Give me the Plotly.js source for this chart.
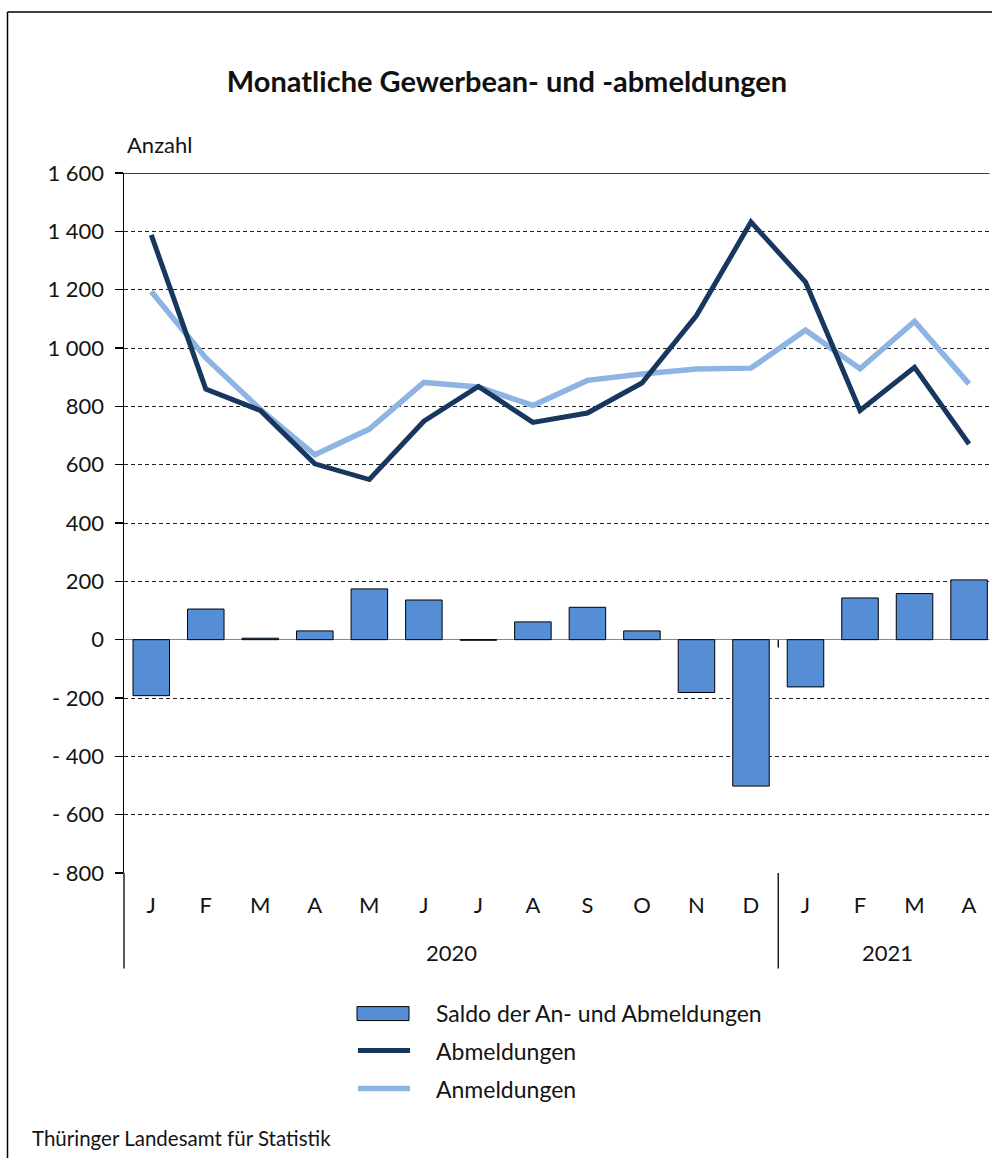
<!DOCTYPE html>
<html>
<head>
<meta charset="utf-8">
<script src="https://cdn.plot.ly/plotly-3.0.1.min.js"></script>
<style>
  html, body { margin: 0; padding: 0; overflow: hidden; background: #fff; width: 992px; height: 1158px; }
  #wrap { position: relative; width: 992px; height: 1158px; overflow: hidden; }
  #chart { position: absolute; left: 0; top: 0; width: 992px; height: 1158px; }
</style>
</head>
<body>
<div id="wrap"><div id="chart"></div></div>
<script>
// ---- data ----
const months = ['J','F','M','A','M','J','J','A','S','O','N','D','J','F','M','A'];
const years = ['2020', '2021'];
const monthsPerYear = [12, 4];
const saldo       = [-192, 105,   5,  30, 174, 136,  -2,  61, 111,  30, -181, -502, -162, 143, 158, 205];
const abmeldungen = [1388, 859, 786, 603, 549, 749, 868, 745, 777, 880, 1111, 1432, 1226, 786, 934, 671];
const anmeldungen = [1194, 966, 790, 634, 722, 882, 866, 803, 889, 911,  928,  931, 1061, 929, 1091, 877];
const yTickVals = [1600, 1400, 1200, 1000, 800, 600, 400, 200, 0, -200, -400, -600, -800];
const yTickText = ['1 600', '1 400', '1 200', '1 000', '800', '600', '400', '200', '0', '- 200', '- 400', '- 600', '- 800'];
const seriesNames = ['Saldo der An- und Abmeldungen', 'Abmeldungen', 'Anmeldungen'];
const titleText = 'Monatliche Gewerbean- und -abmeldungen';
const yUnit = 'Anzahl';
const sourceText = 'Thüringer Landesamt für Statistik';

// ---- styles ----
const FONT = 'Lato, "Open Sans", "DejaVu Sans", sans-serif';
const TXT = '#141414';
const cBar = '#558ED5', cAb = '#17375E', cAn = '#8EB4E3';

const W = 992, H = 1158;
const mL = 124, mR = 0, mT = 172.7, mB = 284.7;
const plotW = W - mL - mR, plotH = H - mT - mB;
const px2x = p => (p - mL) / plotW;
const py2y = p => (H - mB - p) / plotH;
// the category axis of the original runs slightly past the right edge of the picture
const xRange = [-0.5, -0.5 + plotW / 54.52];

const xIdx = months.map((_, i) => i);

// year groups
const yearAnn = [];
const dividerShapes = [];
let start = 0;
years.forEach((y, k) => {
  const n = monthsPerYear[k];
  yearAnn.push({
    text: y, x: start + (n - 1) / 2, xref: 'x', y: py2y(953), yref: 'paper',
    xanchor: 'center', yanchor: 'middle', showarrow: false,
    font: {family: FONT, size: 22, color: TXT}
  });
  if (k > 0) {
    dividerShapes.push({type: 'line', xref: 'x', yref: 'paper', x0: start - 0.5, x1: start - 0.5,
      y0: 0, y1: py2y(969), line: {color: '#000', width: 1.3}});
    dividerShapes.push({type: 'line', xref: 'x', yref: 'y', x0: start - 0.5, x1: start - 0.5,
      y0: 0, y1: -27, line: {color: '#000', width: 1.3}});
  }
  start += n;
});

const traces = [
  {type: 'bar', x: xIdx, y: saldo, name: seriesNames[0], width: 0.67,
   marker: {color: cBar, line: {color: '#000', width: 1}}, showlegend: false, hoverinfo: 'y'},
  {type: 'scatter', mode: 'lines', x: xIdx, y: anmeldungen, name: seriesNames[2],
   line: {color: cAn, width: 5.5}, showlegend: false},
  {type: 'scatter', mode: 'lines', x: xIdx, y: abmeldungen, name: seriesNames[1],
   line: {color: cAb, width: 5}, showlegend: false}
];

const legendRows = [1013, 1051, 1089];
const legendShapes = [
  {type: 'rect', xref: 'paper', yref: 'paper', x0: px2x(357), x1: px2x(409), y0: py2y(1021), y1: py2y(1007),
   fillcolor: cBar, line: {color: '#000', width: 1}},
  {type: 'line', xref: 'paper', yref: 'paper', x0: px2x(358), x1: px2x(410), y0: py2y(legendRows[1]), y1: py2y(legendRows[1]),
   line: {color: cAb, width: 5}},
  {type: 'line', xref: 'paper', yref: 'paper', x0: px2x(358), x1: px2x(410), y0: py2y(legendRows[2]), y1: py2y(legendRows[2]),
   line: {color: cAn, width: 5.5}}
];
const legendAnn = seriesNames.map((s, i) => ({
  text: s, xref: 'paper', yref: 'paper', x: px2x(434), y: py2y(legendRows[i]),
  xanchor: 'left', yanchor: 'middle', showarrow: false,
  font: {family: FONT, size: 23, color: TXT}
}));

const layout = {
  width: W, height: H,
  margin: {l: mL, r: mR, t: mT, b: mB, pad: 0},
  paper_bgcolor: '#fff', plot_bgcolor: '#fff',
  font: {family: FONT, color: TXT, size: 22},
  showlegend: false,
  title: {text: '<b>' + titleText + '</b>', x: 507 / W, xref: 'container', xanchor: 'center',
          y: 1 - 82 / H, yref: 'container', yanchor: 'middle',
          font: {family: FONT, size: 29, color: '#111'}},
  xaxis: {
    range: xRange, tickmode: 'array', tickvals: xIdx, ticktext: months,
    showgrid: false, zeroline: false, showline: false, ticks: '',
    ticklabelstandoff: 17, tickfont: {family: FONT, size: 22, color: TXT}, fixedrange: true
  },
  yaxis: {
    range: [-800, 1600], tickmode: 'array', tickvals: yTickVals, ticktext: yTickText,
    showgrid: true, gridcolor: '#222', gridwidth: 1, griddash: '4px,3px',
    zeroline: true, zerolinecolor: '#888', zerolinewidth: 1.6,
    showline: true, linecolor: '#000', linewidth: 1.5,
    ticks: 'outside', ticklen: 8, tickcolor: '#000', tickwidth: 1.3,
    ticklabelstandoff: 6,
    tickfont: {family: FONT, size: 22, color: TXT}, fixedrange: true
  },
  shapes: [
    {type: 'line', xref: 'paper', yref: 'y', x0: 0, x1: 1, y0: 1600, y1: 1600, line: {color: '#000', width: 1.5}},
    {type: 'line', xref: 'paper', yref: 'paper', x0: 0, x1: 0, y0: 0, y1: py2y(969), line: {color: '#000', width: 1.3}},
    // outer frame: left and top edges
    {type: 'line', xref: 'paper', yref: 'paper', x0: px2x(7.5), x1: px2x(7.5), y0: py2y(11.5), y1: py2y(1160),
     line: {color: '#000', width: 1.5}},
    {type: 'line', xref: 'paper', yref: 'paper', x0: px2x(7.5), x1: 1, y0: py2y(11.5), y1: py2y(11.5),
     line: {color: '#000', width: 1.5}},
    // white cover for the far right edge
    {type: 'rect', xref: 'paper', yref: 'paper', x0: px2x(989.5), x1: px2x(1000), y0: py2y(1170), y1: py2y(12.5),
     fillcolor: '#fff', line: {width: 0}, layer: 'above'}
  ].concat(dividerShapes, legendShapes),
  annotations: [
    {text: yUnit, xref: 'paper', yref: 'paper', x: px2x(125), y: py2y(144), xanchor: 'left', yanchor: 'middle',
     showarrow: false, font: {family: FONT, size: 22, color: TXT}},
    {text: sourceText, xref: 'paper', yref: 'paper', x: px2x(30), y: py2y(1139), xanchor: 'left', yanchor: 'middle',
     showarrow: false, font: {family: FONT, size: 20.5, color: TXT}}
  ].concat(yearAnn, legendAnn)
};

Plotly.newPlot('chart', traces, layout, {displayModeBar: false, staticPlot: true});
</script>
</body>
</html>
